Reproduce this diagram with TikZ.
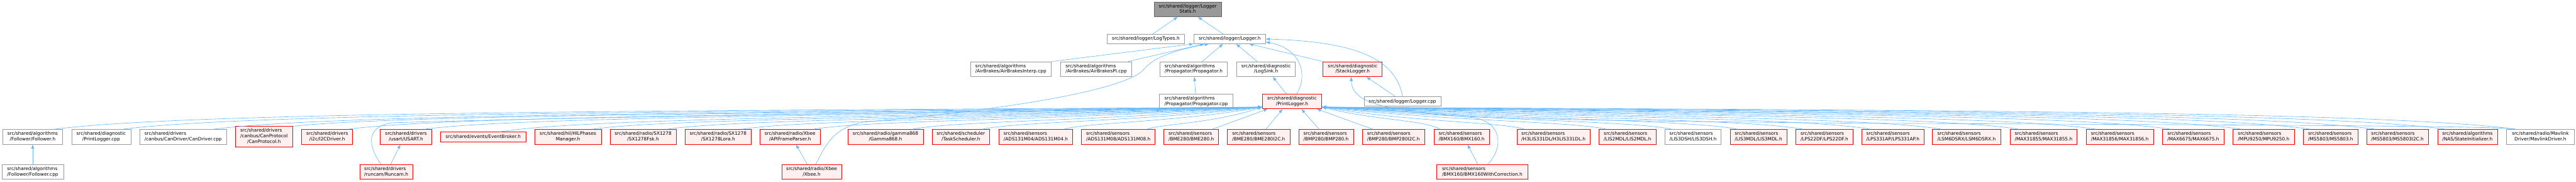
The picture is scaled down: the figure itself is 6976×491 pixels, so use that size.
\documentclass[tikz,border=0pt]{standalone}
\usepackage{fontspec}
\setmainfont{DejaVu Sans}
\usetikzlibrary{arrows.meta,calc}
\definecolor{edgec}{HTML}{63B8FF}
\definecolor{grayb}{HTML}{999999}
\definecolor{curb}{HTML}{666666}
\definecolor{curf}{HTML}{999999}
\definecolor{redb}{HTML}{FF0000}
\definecolor{redf}{HTML}{FFF0F0}
\newcommand{\txtl}[2]{\begin{tabular}{@{}l@{}}#1\\#2\end{tabular}}
\newcommand{\txtc}[2]{\begin{tabular}{@{}c@{}}#1\\#2\end{tabular}}
\newcommand{\bx}[7]{\node[#6, minimum width={(#4-#2)*0.75pt}, minimum height={(#5-#3)*0.75pt}] (#1) at ({(#2+#4)/2},{(#3+#5)/2}) {#7};}
% left edge into PrintLogger: child, xoff, xs, lane
\newcommand{\eL}[4]{\draw[edge] ($(#1.north)+(#2,0)$) .. controls ({#3+0.12*(3419-#3)},#4) and ({3419-0.45*(3419-#3)},#4) .. ($(PL.south west)+(0,-5)$);}
\newcommand{\eR}[4]{\draw[edge] ($(#1.north)+(#2,0)$) .. controls ({#3-0.12*(#3-3579)},#4) and ({3579+0.45*(#3-3579)},#4) .. ($(PL.south east)+(0,-5)$);}
\tikzset{
  box/.style={rectangle, inner sep=0pt, line width=0.9pt, text=black, font={\fontsize{9.4}{11.25}\selectfont}},
  nbox/.style={box, draw=grayb, fill=white},
  rbox/.style={box, draw=redb, fill=redf},
  cbox/.style={box, draw=curb, fill=curf},
  edge/.style={draw=edgec, line width=0.8pt, -{Latex[length=8.5pt,width=6.5pt]}}
}
\begin{document}
\begin{tikzpicture}[x=0.75pt,y=-0.75pt]
\fill[white] (0,0) rectangle (6976,491);
\useasboundingbox (0,0) rectangle (6976,491);
% row 1-4
\bx{LS}{3125}{5}{3308}{45}{cbox}{\txtc{src/shared/logger/Logger}{Stats.h}}
\bx{LT}{2998}{93}{3208}{118}{nbox}{src/shared/logger/LogTypes.h}
\bx{LG}{3233}{93}{3427}{118}{nbox}{src/shared/logger/Logger.h}
\bx{ABI}{2628}{167}{2847}{207}{nbox}{\txtl{src/shared/algorithms}{/AirBrakes/AirBrakesInterp.cpp}}
\bx{ABP}{2872}{167}{3065}{207}{nbox}{\txtl{src/shared/algorithms}{/AirBrakes/AirBrakesPI.cpp}}
\bx{PRH}{3141}{167}{3324}{207}{nbox}{\txtl{src/shared/algorithms}{/Propagator/Propagator.h}}
\bx{LSK}{3349}{167}{3508}{207}{nbox}{\txtc{src/shared/diagnostic}{/LogSink.h}}
\bx{SL}{3583}{167}{3743}{207}{rbox}{\txtc{src/shared/diagnostic}{/StackLogger.h}}
\bx{PRC}{3140}{255}{3339}{294}{nbox}{\txtl{src/shared/algorithms}{/Propagator/Propagator.cpp}}
\bx{PL}{3419}{255}{3579}{294}{rbox}{\txtc{src/shared/diagnostic}{/PrintLogger.h}}
\bx{LGC}{3694}{262}{3902}{287}{nbox}{src/shared/logger/Logger.cpp}
% row 5
\bx{FH}{7}{350}{170}{390}{nbox}{\txtc{src/shared/algorithms}{/Follower/Follower.h}}
\bx{PLC}{194}{350}{354}{390}{nbox}{\txtc{src/shared/diagnostic}{/PrintLogger.cpp}}
\bx{CDC}{378}{350}{614}{390}{nbox}{\txtl{src/shared/drivers}{/canbus/CanDriver/CanDriver.cpp}}
\bx{CPH}{637}{342}{793}{397}{rbox}{\begin{tabular}{@{}l@{}}src/shared/drivers\\/canbus/CanProtocol\\\multicolumn{1}{@{}c@{}}{/CanProtocol.h}\end{tabular}}
\bx{I2C}{817}{350}{955}{390}{rbox}{\txtc{src/shared/drivers}{/i2c/I2CDriver.h}}
\bx{US}{1030}{350}{1169}{390}{rbox}{\txtc{src/shared/drivers}{/usart/USART.h}}
\bx{EB}{1193}{357}{1424}{383}{rbox}{src/shared/events/EventBroker.h}
\bx{HIL}{1448}{350}{1628}{390}{rbox}{\txtc{src/shared/hil/HILPhases}{Manager.h}}
\bx{FSK}{1652}{350}{1831}{390}{rbox}{\txtc{src/shared/radio/SX1278}{/SX1278Fsk.h}}
\bx{LORA}{1855}{350}{2034}{390}{rbox}{\txtc{src/shared/radio/SX1278}{/SX1278Lora.h}}
\bx{API}{2058}{350}{2221}{390}{rbox}{\txtc{src/shared/radio/Xbee}{/APIFrameParser.h}}
\bx{GAM}{2296}{350}{2500}{390}{rbox}{\txtc{src/shared/radio/gamma868}{/Gamma868.h}}
\bx{TS}{2524}{350}{2680}{390}{rbox}{\txtc{src/shared/scheduler}{/TaskScheduler.h}}
\bx{A04}{2705}{350}{2905}{390}{rbox}{\txtl{src/shared/sensors}{/ADS131M04/ADS131M04.h}}
\bx{A08}{2929}{350}{3128}{390}{rbox}{\txtl{src/shared/sensors}{/ADS131M08/ADS131M08.h}}
\bx{BME}{3152}{350}{3300}{390}{rbox}{\txtl{src/shared/sensors}{/BME280/BME280.h}}
\bx{BMEI}{3324}{350}{3493}{390}{rbox}{\txtl{src/shared/sensors}{/BME280/BME280I2C.h}}
\bx{BMP}{3517}{350}{3665}{390}{rbox}{\txtl{src/shared/sensors}{/BMP280/BMP280.h}}
\bx{BMPI}{3689}{350}{3858}{390}{rbox}{\txtl{src/shared/sensors}{/BMP280/BMP280I2C.h}}
\bx{BMX}{3883}{350}{4033}{390}{rbox}{\txtl{src/shared/sensors}{/BMX160/BMX160.h}}
\bx{H3}{4108}{350}{4306}{390}{rbox}{\txtl{src/shared/sensors}{/H3LIS331DL/H3LIS331DL.h}}
\bx{L2M}{4330}{350}{4485}{390}{rbox}{\txtl{src/shared/sensors}{/LIS2MDL/LIS2MDL.h}}
\bx{L3D}{4509}{350}{4661}{390}{nbox}{\txtl{src/shared/sensors}{/LIS3DSH/LIS3DSH.h}}
\bx{L3M}{4685}{350}{4839}{390}{rbox}{\txtl{src/shared/sensors}{/LIS3MDL/LIS3MDL.h}}
\bx{L22}{4863}{350}{5018}{390}{rbox}{\txtl{src/shared/sensors}{/LPS22DF/LPS22DF.h}}
\bx{L331}{5042}{350}{5210}{390}{rbox}{\txtl{src/shared/sensors}{/LPS331AP/LPS331AP.h}}
\bx{LSM}{5233}{350}{5418}{390}{rbox}{\txtl{src/shared/sensors}{/LSM6DSRX/LSM6DSRX.h}}
\bx{M55}{5443}{350}{5625}{390}{rbox}{\txtl{src/shared/sensors}{/MAX31855/MAX31855.h}}
\bx{M56}{5649}{350}{5832}{390}{rbox}{\txtl{src/shared/sensors}{/MAX31856/MAX31856.h}}
\bx{M66}{5856}{350}{6023}{390}{rbox}{\txtl{src/shared/sensors}{/MAX6675/MAX6675.h}}
\bx{MPU}{6047}{350}{6213}{390}{rbox}{\txtl{src/shared/sensors}{/MPU9250/MPU9250.h}}
\bx{MS}{6238}{350}{6385}{390}{rbox}{\txtl{src/shared/sensors}{/MS5803/MS5803.h}}
\bx{MSI}{6409}{350}{6576}{390}{rbox}{\txtl{src/shared/sensors}{/MS5803/MS5803I2C.h}}
\bx{SI}{6601}{350}{6763}{390}{rbox}{\txtl{src/shared/algorithms}{/NAS/StateInitializer.h}}
\bx{MD}{6788}{350}{6971}{390}{nbox}{\txtc{src/shared/radio/Mavlink}{Driver/MavlinkDriver.h}}
% row 6
\bx{FC}{5}{445}{172}{485}{nbox}{\txtl{src/shared/algorithms}{/Follower/Follower.cpp}}
\bx{RC}{974}{445}{1118}{485}{rbox}{\txtl{src/shared/drivers}{/runcam/Runcam.h}}
\bx{XB}{2117}{445}{2279}{485}{rbox}{\txtc{src/shared/radio/Xbee}{/Xbee.h}}
\bx{BWC}{3890}{445}{4138}{485}{rbox}{\txtl{src/shared/sensors}{/BMX160/BMX160WithCorrection.h}}
% ---- edges ----
\draw[edge] ($(LT.north)+(18,0)$) -- ($(LS.south)+(-27,0)$);
\draw[edge] ($(LG.north)+(-17,0)$) -- ($(LS.south)+(27,0)$);
\draw[edge] (ABI.north east) -- (LG.south west);
\draw[edge] ($(ABP.north)+(86,0)$) -- ($(LG.south west)+(29,0)$);
\draw[edge] ($(PRH.north)+(23,0)$) -- ($(LG.south west)+(80,0)$);
\draw[edge] ($(LSK.north)+(-24,0)$) -- ($(LG.south west)+(115,0)$);
\draw[edge] (SL.north west) -- ($(LG.south west)+(150,0)$);
\draw[edge] ($(PL.north)+(12,0)$) .. controls (3545,200) and (3520,130) .. ($(LG.south east)+(0,-5)$);
\draw[edge] (LGC.north) .. controls (3780,150) and (3650,112) .. (LG.east);
\draw[edge] ($(XB.north)+(11,0)$) .. controls (2235,395) and (2255,345) .. (2340,330) .. controls (2750,295) and (3060,240) .. (3100,185) .. controls (3130,150) and (3200,132) .. ($(LG.south west)+(42,0)$);
\draw[edge] ($(PRC.north)+(-2,0)$) -- ($(PRH.south)+(2,0)$);
\draw[edge] ($(PL.north)+(-15,0)$) -- ($(LSK.south)+(18,0)$);
\draw[edge] ($(LGC.north)+(-19,0)$) -- ($(SL.south)+(37,0)$);
\draw[edge] ($(MD.north)+(-67,0)$) .. controls (6760,341) and (6300,339) .. (5000,333) .. controls (3900,322) and (3662,320) .. ($(SL.south)+(-4,0)$);
\draw[edge] (FC.north) -- (FH.south);
\draw[edge] ($(RC.north)+(12,0)$) -- ($(US.south)+(-15,0)$);
\draw[edge] ($(XB.north)+(-12,0)$) -- ($(API.south)+(16,0)$);
\draw[edge] ($(BWC.north)+(-12,0)$) -- ($(BMX.south)+(16,0)$);
\draw[edge] ($(RC.north)+(-14,0)$) .. controls (1000,400) and (985,345) .. (1060,332) .. controls (1800,310) and (3000,300) .. ($(PL.south west)+(0,-5)$);
\draw[edge] ($(BWC.north)+(15,0)$) .. controls (4075,395) and (4065,330) .. (3990,318) .. controls (3800,300) and (3650,292) .. ($(PL.south east)+(0,-5)$);
% left bundle
\eL{FH}{59}{147}{300}
\eL{PLC}{59}{333}{303}
\eL{CDC}{82}{578}{306}
\draw[edge] (CPH.north east) .. controls ({793+0.12*(3419-793)},308) and ({3419-0.45*(3419-793)},308) .. ($(PL.south west)+(0,-5)$);
\eL{I2C}{56}{942}{311}
\eL{US}{50}{1150}{314}
\eL{EB}{46}{1355}{317}
\eL{HIL}{66}{1604}{319}
\eL{FSK}{65}{1807}{321}
\eL{LORA}{65}{2010}{323}
\eL{API}{63}{2203}{325}
\eL{GAM}{73}{2471}{327}
\eL{TS}{59}{2661}{329}
\eL{A04}{76}{2881}{331}
\eL{A08}{78}{3107}{335}
\draw[edge] ($(BME.north)+(57,0)$) -- ($(PL.south west)+(15,0)$);
\draw[edge] ($(BMEI.north)+(20,0)$) -- ($(PL.south west)+(55,0)$);
\draw[edge] ($(BMP.north)+(-19,0)$) -- ($(PL.south)+(25,0)$);
\draw[edge] ($(BMPI.north)+(-56,0)$) -- ($(PL.south east)+(-14,0)$);
% right bundle
\eR{BMX}{-59}{3899}{325}
\eR{H3}{-78}{4129}{330}
\eR{L2M}{-58}{4349}{328}
\eR{L3D}{-58}{4527}{326}
\eR{L3M}{-57}{4705}{323}
\eR{L22}{-58}{4883}{321}
\eR{L331}{-61}{5065}{318}
\eR{LSM}{-68}{5258}{316}
\eR{M55}{-67}{5467}{313}
\eR{M56}{-65}{5675}{311}
\eR{M66}{-61}{5878}{308}
\eR{MPU}{-60}{6070}{306}
\eR{MS}{-55}{6257}{304}
\eR{MSI}{-61}{6431}{302}
\eR{SI}{-59}{6623}{300}
\eR{MD}{-67}{6812}{298}
\end{tikzpicture}
\end{document}
